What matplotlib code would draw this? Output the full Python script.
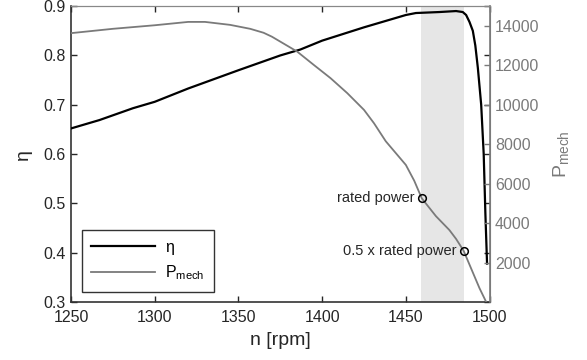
import matplotlib
matplotlib.use("Agg")
import matplotlib.pyplot as plt

plt.rcParams['font.family'] = ['Liberation Sans', 'DejaVu Sans']
plt.rcParams['mathtext.fontset'] = 'custom'
plt.rcParams['mathtext.rm'] = 'Liberation Sans'
plt.rcParams['mathtext.it'] = 'Liberation Sans'

# ---- data ----
eta_n = [1250, 1267, 1287, 1300, 1320, 1350, 1375, 1387, 1400, 1425, 1440, 1450, 1456,
         1470, 1480, 1484, 1486, 1488, 1490, 1491.5, 1493, 1495, 1496.5, 1497.5, 1498.5]
eta_v = [0.652, 0.669, 0.693, 0.706, 0.733, 0.770, 0.800, 0.812, 0.830, 0.857, 0.872,
         0.882, 0.886, 0.888, 0.890, 0.888, 0.882, 0.868, 0.850, 0.820, 0.775, 0.700,
         0.600, 0.480, 0.378]

p_n = [1250, 1275, 1300, 1320, 1330, 1345, 1357, 1365, 1370, 1375, 1380, 1385, 1395,
       1405, 1415, 1425, 1431, 1438, 1445, 1450, 1455, 1459.5, 1468, 1476, 1480,
       1484.5, 1490, 1494, 1498]
p_v = [13630, 13850, 14030, 14200, 14200, 14050, 13850, 13650, 13450, 13200, 12950,
       12700, 12020, 11350, 10590, 9740, 9060, 8150, 7450, 6950, 6150, 5260, 4350,
       3650, 3200, 2600, 1500, 700, 0]

marker_n = [1459.5, 1484.5]
marker_p = [5260, 2600]
marker_labels = ['rated power', '0.5 x rated power']

shade_range = [1459, 1485]

x_ticks = [1250, 1300, 1350, 1400, 1450, 1500]
eta_ticks = [0.3, 0.4, 0.5, 0.6, 0.7, 0.8, 0.9]
p_ticks = [2000, 4000, 6000, 8000, 10000, 12000, 14000]

# ---- figure ----
fig = plt.figure(figsize=(5.87, 3.6), dpi=100)
ax1 = fig.add_axes([0.121, 0.161, 0.713, 0.822])
ax2 = ax1.twinx()

gray = '#7a7a7a'
dark = '#262626'

ax1.axvspan(shade_range[0], shade_range[1], color='#e6e6e6', lw=0, zorder=0)
l1, = ax1.plot(eta_n, eta_v, color='black', lw=1.6, label='η', zorder=3)
l2, = ax2.plot(p_n, p_v, color=gray, lw=1.3, label='P$_{\\mathrm{mech}}$', zorder=3)
ax2.plot(marker_n, marker_p, 'o', mfc='none', mec='black', mew=1.1, ms=5.5, zorder=4)
for n, p, t in zip(marker_n, marker_p, marker_labels):
    ax2.annotate(t, (n, p), xytext=(-5, 0), textcoords='offset points',
                 ha='right', va='center', fontsize=10.5, color=dark)

ax1.set_xlim(1250, 1500)
ax1.set_ylim(0.3, 0.9)
ax2.set_ylim(0, 15000)

ax1.set_xticks(x_ticks)
ax1.set_xticklabels([str(v) for v in x_ticks])
ax1.set_yticks(eta_ticks)
ax1.set_yticklabels(['%.1f' % v for v in eta_ticks])
ax2.set_yticks(p_ticks)
ax2.set_yticklabels([str(v) for v in p_ticks])

ax1.tick_params(axis='both', direction='in', length=4, width=1, labelsize=11.5,
                colors=dark, top=True, right=True, labelright=False)
ax1.tick_params(axis='x', pad=6)
ax1.tick_params(axis='y', pad=4)
ax2.tick_params(axis='y', direction='in', length=4, width=1, labelsize=11.5,
                colors=gray, pad=4)

for sp in ['left', 'bottom']:
    ax1.spines[sp].set_color('#333333')
    ax1.spines[sp].set_linewidth(1.2)
ax1.spines['top'].set_color('#888888')
ax1.spines['right'].set_color(gray)
ax2.spines['right'].set_color(gray)
ax2.spines['right'].set_linewidth(1.2)
ax2.spines['top'].set_color('#888888')
ax2.spines['left'].set_visible(False)
ax2.spines['bottom'].set_visible(False)

ax1.set_xlabel('n [rpm]', fontsize=14, color=dark, labelpad=5)
ax1.set_ylabel('η', fontsize=14, color=dark, labelpad=8)
ax2.set_ylabel('P$_{\\mathrm{mech}}$', fontsize=14, color=gray, labelpad=8)

leg = ax1.legend([l1, l2], ['η', 'P$_{\\mathrm{mech}}$'], loc='lower left',
                 bbox_to_anchor=(0.026, 0.034), borderaxespad=0, fancybox=False,
                 framealpha=1, edgecolor='#333333', fontsize=11.5, handlelength=4.0,
                 borderpad=0.6, labelspacing=0.55, handletextpad=0.6)
leg.get_frame().set_linewidth(1.0)
leg.set_zorder(10)

fig.savefig('out.png', dpi=100)
